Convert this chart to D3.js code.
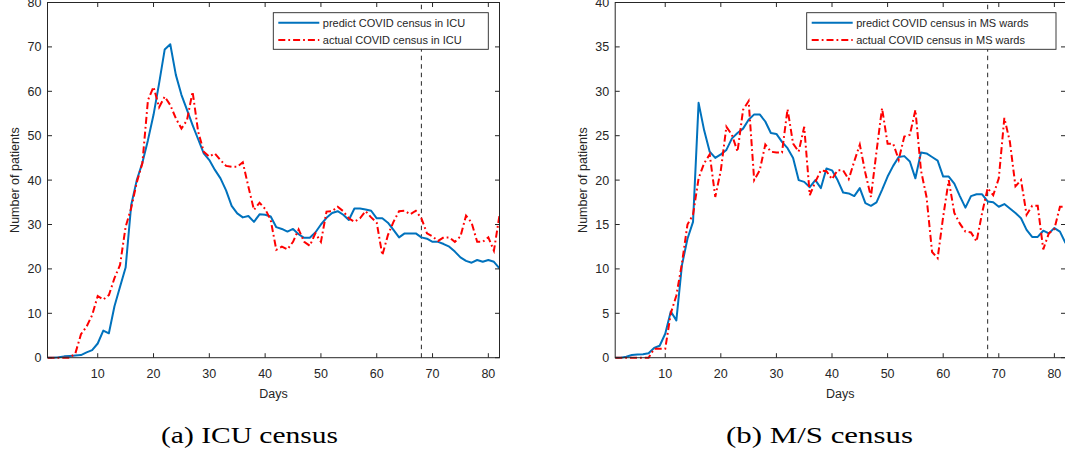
<!DOCTYPE html>
<html>
<head>
<meta charset="utf-8">
<script src="https://cdn.jsdelivr.net/npm/d3@7"></script>
<style>
  html, body { margin: 0; padding: 0; background: #ffffff; }
  svg { display: block; }
  text { font-family: "Liberation Sans", Arial, Helvetica, sans-serif; fill: #262626; }
</style>
</head>
<body>
<svg id="chart" width="1065" height="452"></svg>
<script>
// ---------------- data ----------------
const days = d3.range(1, 83); // day index 1..82

const icuPredict = [
  0, 0, 0.1, 0.3, 0.4, 0.5, 0.6, 1.2, 1.7, 3.2,
  6.1, 5.5, 11.6, 16, 20.3, 34.4, 40, 43.9, 49, 54.7,
  61.8, 69.4, 70.6, 63.7, 59.2, 55.8, 52.4, 49.2, 46, 44.5,
  42.3, 40.4, 37.7, 34.2, 32.5, 31.6, 31.9, 30.6, 32.3, 32.2,
  31.8, 29.4, 29, 28.4, 29, 27.8, 27, 27, 28.2, 30,
  31.5, 32.6, 33, 32.2, 31, 33.6, 33.6, 33.4, 33.1, 31.4,
  31.4, 30.4, 28.8, 27.1, 28, 28, 28, 27.1, 26.8, 26.1,
  26.1, 25.6, 25, 23.9, 22.6, 21.8, 21.4, 22, 21.6, 22,
  21.6, 20.1
];
const icuActual = [
  0, 0, 0, 0, 0, 1, 5.3, 7, 9.6, 13.9,
  13.1, 14.1, 17.9, 20.9, 29.5, 33.7, 39.5, 43.8, 58, 61,
  56.4, 58.8, 56.9, 53.9, 51.6, 53.5, 59.9, 50.9, 46.4, 45.3,
  46, 44.5, 43.2, 43, 43, 44, 38.5, 33.3, 34.9, 33.5,
  31, 24.3, 25, 24.4, 26.1, 28.9, 26.1, 25.2, 28, 26.1,
  32.9, 33, 34, 33, 31.4, 30.6, 31.4, 33, 31.6, 30.4,
  23.1, 27.6, 30.6, 33, 33.1, 32.3, 33.1, 31.4, 28, 27.3,
  26.3, 27.1, 27.1, 26.1, 27.3, 32, 30.4, 26.1, 26.1, 27.1,
  24.1, 32.1
];
const msPredict = [
  0, 0, 0.1, 0.3, 0.35, 0.4, 0.5, 1.1, 1.35, 2.7,
  5.2, 4.2, 10.4, 13.4, 15.3, 28.7, 25.6, 23.2, 22.5, 22.9,
  23.4, 24.7, 25.3, 25.8, 26.8, 27.4, 27.4, 26.6, 25.3, 25.2,
  24.3, 23.6, 22.5, 20, 19.8, 19.2, 20, 19.1, 21.3, 21.1,
  20, 18.6, 18.5, 18.2, 19.1, 17.4, 17.1, 17.5, 18.9, 20.4,
  21.6, 22.6, 22.7, 22.1, 20.2, 23.1, 23, 22.6, 22.2, 20.4,
  20.4, 19.6, 18.2, 16.9, 18.2, 18.4, 18.4, 17.6, 17.5, 17,
  17.3, 16.8, 16.3, 15.7, 14.4, 13.6, 13.6, 14.3, 14, 14.6,
  14.2, 12.9
];
const msActual = [
  0, 0, 0, 0, 0, 0, 0, 1, 1, 1,
  5, 7, 10.6, 15, 16.1, 20.2, 21.9, 22.9, 18.1, 21.1,
  26, 25.1, 23.2, 27.9, 28.9, 20, 21.1, 24, 23.2, 23.1,
  23.1, 28, 24.1, 23.2, 26, 18.3, 19.8, 21.1, 21, 20.1,
  21.1, 21.1, 20.1, 22.1, 24, 20.8, 18.1, 23.2, 28.1, 24.1,
  24.1, 22.3, 24.9, 25.1, 27.9, 21.1, 18.1, 11.9, 11.2, 15.9,
  20, 16.3, 15.1, 14.2, 14.1, 13.1, 16.3, 19.1, 18.3, 20.2,
  27, 24.3, 19.3, 20, 16.1, 17.1, 17.1, 12.2, 14, 14.5,
  17, 17
];

const xTicks = [10, 20, 30, 40, 50, 60, 70, 80];
const icuYTicks = [0, 10, 20, 30, 40, 50, 60, 70, 80];
const msYTicks = [0, 5, 10, 15, 20, 25, 30, 35, 40];
const forecastDay = 68;

const icuLegend = ["predict COVID census in ICU", "actual COVID census in ICU"];
const msLegend = ["predict COVID census in MS wards", "actual COVID census in MS wards"];
const captions = ["(a) ICU census", "(b) M/S census"];
const xLabel = "Days";
const yLabel = "Number of patients";

// ---------------- drawing ----------------
const svg = d3.select("#chart");
const AX = "#262626";
const BLUE = "#0072BD";
const RED = "#FF0000";
const DASHDOT = "7,3,1.8,3";

function panel(cfg) {
  const g = svg.append("g");
  const x = d3.scaleLinear().domain([1, 82]).range([cfg.x0, cfg.x1]);
  const y = d3.scaleLinear().domain([0, cfg.yMax]).range([cfg.y0, cfg.y1]);
  const tickLen = 4.5;

  const clipId = "clip" + cfg.id;
  svg.append("clipPath").attr("id", clipId)
    .append("rect").attr("x", cfg.x0).attr("y", cfg.y1 - 2)
    .attr("width", cfg.x1 - cfg.x0).attr("height", cfg.y0 - cfg.y1 + 4);

  const line = d3.line().x((d, i) => x(days[i])).y(d => y(d));

  // forecast divider
  g.append("line")
    .attr("x1", x(forecastDay)).attr("x2", x(forecastDay))
    .attr("y1", y(0)).attr("y2", y(cfg.yMax))
    .attr("stroke", AX).attr("stroke-width", 1)
    .attr("stroke-dasharray", "4.5,4");

  g.append("path").datum(cfg.pred)
    .attr("clip-path", `url(#${clipId})`)
    .attr("d", line).attr("fill", "none")
    .attr("stroke", BLUE).attr("stroke-width", 2)
    .attr("stroke-linejoin", "round");

  g.append("path").datum(cfg.act)
    .attr("clip-path", `url(#${clipId})`)
    .attr("d", line).attr("fill", "none")
    .attr("stroke", RED).attr("stroke-width", 2)
    .attr("stroke-dasharray", DASHDOT);

  // box
  g.append("rect")
    .attr("x", cfg.x0).attr("y", cfg.y1)
    .attr("width", cfg.x1 - cfg.x0).attr("height", cfg.y0 - cfg.y1)
    .attr("fill", "none").attr("stroke", AX).attr("stroke-width", 1);

  // ticks (inward on all four sides)
  const xt = g.append("g");
  xTicks.forEach(t => {
    xt.append("line").attr("x1", x(t)).attr("x2", x(t))
      .attr("y1", cfg.y0).attr("y2", cfg.y0 - tickLen).attr("stroke", AX);
    xt.append("line").attr("x1", x(t)).attr("x2", x(t))
      .attr("y1", cfg.y1).attr("y2", cfg.y1 + tickLen).attr("stroke", AX);
    xt.append("text").attr("x", x(t)).attr("y", cfg.y0 + 20)
      .attr("text-anchor", "middle").attr("font-size", 12.5).text(t);
  });
  const yt = g.append("g");
  cfg.yTicks.forEach(t => {
    yt.append("line").attr("x1", cfg.x0).attr("x2", cfg.x0 + tickLen)
      .attr("y1", y(t)).attr("y2", y(t)).attr("stroke", AX);
    yt.append("line").attr("x1", cfg.x1).attr("x2", cfg.x1 - tickLen)
      .attr("y1", y(t)).attr("y2", y(t)).attr("stroke", AX);
    yt.append("text").attr("x", cfg.x0 - 6).attr("y", y(t) + 4.5)
      .attr("text-anchor", "end").attr("font-size", 12.5).text(t);
  });

  // axis labels
  g.append("text").attr("x", (cfg.x0 + cfg.x1) / 2).attr("y", cfg.y0 + 40.5)
    .attr("text-anchor", "middle").attr("font-size", 12.5).text(xLabel);
  g.append("text")
    .attr("transform", `translate(${cfg.x0 - 28.5},${(cfg.y0 + cfg.y1) / 2}) rotate(-90)`)
    .attr("text-anchor", "middle").attr("font-size", 12.5).text(yLabel);

  // legend
  const lg = g.append("g");
  lg.append("rect").attr("x", cfg.lx0).attr("y", 12.7)
    .attr("width", cfg.lx1 - cfg.lx0).attr("height", 36.6)
    .attr("fill", "#ffffff").attr("stroke", AX).attr("stroke-width", 0.9);
  const rows = [
    { label: cfg.legend[0], color: BLUE, dash: null, yy: 22.7 },
    { label: cfg.legend[1], color: RED, dash: DASHDOT, yy: 40 }
  ];
  rows.forEach(r => {
    lg.append("line").attr("x1", cfg.lx0 + 5).attr("x2", cfg.lx0 + 46)
      .attr("y1", r.yy).attr("y2", r.yy)
      .attr("stroke", r.color).attr("stroke-width", 2)
      .attr("stroke-dasharray", r.dash);
    lg.append("text").attr("x", cfg.lx0 + 49.5).attr("y", r.yy + 4)
      .attr("font-size", 11).text(r.label);
  });

  // caption
  svg.append("text")
    .attr("x", cfg.capX).attr("y", 443)
    .attr("font-size", 23)
    .attr("textLength", cfg.capW).attr("lengthAdjust", "spacingAndGlyphs")
    .style("font-family", "'Liberation Serif', 'Times New Roman', serif")
    .style("fill", "#000")
    .text(cfg.caption);
}

panel({
  id: "a", x0: 47.5, x1: 499.5, y0: 357.7, y1: 2.5, yMax: 80,
  yTicks: icuYTicks, pred: icuPredict, act: icuActual,
  legend: icuLegend, lx0: 273.3, lx1: 488.3,
  caption: captions[0], capX: 161, capW: 177
});
panel({
  id: "b", x0: 615.2, x1: 1065.5, y0: 357.7, y1: 2.5, yMax: 40,
  yTicks: msYTicks, pred: msPredict, act: msActual,
  legend: msLegend, lx0: 806.7, lx1: 1056,
  caption: captions[1], capX: 726, capW: 187
});
</script>
</body>
</html>
